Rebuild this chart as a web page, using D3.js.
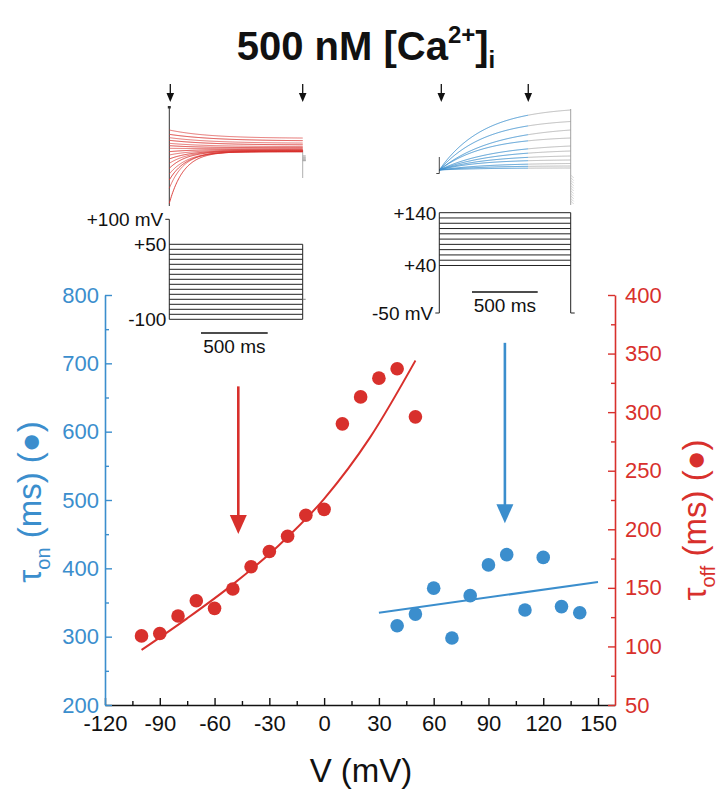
<!DOCTYPE html>
<html><head><meta charset="utf-8">
<script src="https://cdn.jsdelivr.net/npm/d3@7"></script>
<style>
body{margin:0;background:#fff}
svg{display:block}
text{font-family:"Liberation Sans",Arial,Helvetica,sans-serif}
</style>
</head><body>
<svg id="chart" width="725" height="803"></svg>
<script>
const BLUE = "#3b8ecd", RED = "#d8302c";

// ---- main data ----
const offV   = [-100,-90,-80,-70,-60,-50,-40,-30,-20,-10,0,10,20,30,40,50];
const offTau = [109,111,126,139,132.5,149,168,181,194,212,217,290,313,329,337,296];
const onV    = [40,50,60,70,80,90,100,110,120,130,140];
const onTau  = [316,333,371,298,360,405,420,339,416,344,335];
const offFitV   = [-100,-75,-50,-25,0,25,50];
const offFitTau = [97,124,153,186,226,278,344];
const onFitV   = [30,150];
const onFitTau = [335,380];
const xTicks      = [-120,-90,-60,-30,0,30,60,90,120,150];
const xMinor      = [-105,-75,-45,-15,15,45,75,105,135];
const yLeftTicks  = [200,300,400,500,600,700,800];
const yLeftMinor  = [250,350,450,550,650,750];
const yRightTicks = [50,100,150,200,250,300,350,400];
const yRightMinor = [75,125,175,225,275,325,375];

// annotation arrows (data coords)
const redArrow  = {v:-47, from:322, to:196};   // right axis units
const blueArrow = {v:99,  from:730, to:466};   // left axis units

// ---- inset data ----
// tail (off) currents, arbitrary units, ordered as offV
const offInsetStart = [-15.5,-11.0,-8.5,-6.7,-5.0,-3.5,-2.2,-1.0,0,1.0,1.8,2.5,3.4,4.2,5.2,6.5];
const offInsetEnd   = [0,0,0,0.1,0.2,0.3,0.4,0.5,0.7,0.9,1.2,1.5,2.0,2.5,3.2,4.0];
// activation (on) currents at 1 s, arbitrary units, ordered as onV
const onInsetEnd = [2,4,6.5,10,14,19,24,32,40,48.5,60];
const offProtoLabels = [{v:100,t:"+100 mV"},{v:50,t:"+50"},{v:-100,t:"-100"}];
const onProtoLabels  = [{v:140,t:"+140"},{v:40,t:"+40"},{v:-50,t:"-50 mV"}];
const onBlueEndT = 677;   // ms at which the fitted (blue) part ends

const svg = d3.select("#chart");
const fmt = d => String(d);

// ---- title ----
const title = svg.append("text").attr("x", 366).attr("y", 60).attr("text-anchor","middle")
  .attr("font-size", 40).attr("font-weight","bold").attr("fill","#111");
title.append("tspan").text("500 nM [Ca");
title.append("tspan").attr("font-size", 24).attr("dy", -17).text("2+");
title.append("tspan").attr("dy", 17).text("]");
title.append("tspan").attr("font-size", 24).attr("dy", 8).text("i");

// ---- scales ----
const x  = d3.scaleLinear().domain([-120, 159.3]).range([105, 615]);
const yL = d3.scaleLinear().domain([200, 800]).range([705, 295]);
const yR = d3.scaleLinear().domain([50, 400]).range([705, 295]);

function styleAxis(g, color){
  g.selectAll("path").attr("stroke", color).attr("stroke-width", 1.6);
  g.selectAll("line").attr("stroke", color).attr("stroke-width", 1.4);
  g.selectAll("text").attr("fill", color).attr("font-size", 22)
    .attr("font-family", '"Liberation Sans",Arial,sans-serif');
}

// bottom axis
const gB = svg.append("g").attr("transform","translate(0,705)")
  .call(d3.axisBottom(x).tickValues(xTicks).tickFormat(fmt).tickSizeInner(-7).tickSizeOuter(0).tickPadding(10));
styleAxis(gB, "#111");
const gBm = svg.append("g").attr("transform","translate(0,705)")
  .call(d3.axisBottom(x).tickValues(xMinor).tickSizeInner(-4).tickFormat(""));
gBm.select(".domain").remove(); styleAxis(gBm, "#111");

// left axis
const gL = svg.append("g").attr("transform","translate(105,0)")
  .call(d3.axisLeft(yL).tickValues(yLeftTicks).tickFormat(fmt).tickSizeInner(-7).tickSizeOuter(0).tickPadding(6));
styleAxis(gL, BLUE);
const gLm = svg.append("g").attr("transform","translate(105,0)")
  .call(d3.axisLeft(yL).tickValues(yLeftMinor).tickSizeInner(-4).tickFormat(""));
gLm.select(".domain").remove(); styleAxis(gLm, BLUE);

// right axis
const gR = svg.append("g").attr("transform","translate(615,0)")
  .call(d3.axisRight(yR).tickValues(yRightTicks).tickFormat(fmt).tickSizeInner(-7).tickSizeOuter(0).tickPadding(10));
styleAxis(gR, RED);
const gRm = svg.append("g").attr("transform","translate(615,0)")
  .call(d3.axisRight(yR).tickValues(yRightMinor).tickSizeInner(-4).tickFormat(""));
gRm.select(".domain").remove(); styleAxis(gRm, RED);

// axis titles
svg.append("text").attr("x", 361).attr("y", 782).attr("text-anchor","middle")
  .attr("font-size", 33).attr("fill","#111").text("V (mV)");

function yTitle(tx, ty, sub, color){
  const t = svg.append("text").attr("transform",`translate(${tx},${ty}) rotate(-90)`)
    .attr("text-anchor","middle").attr("font-size", 33).attr("fill", color);
  t.append("tspan").text("τ");
  t.append("tspan").attr("font-size", 20).attr("dy", 9).text(sub);
  t.append("tspan").attr("dy", -9).text(" (ms) (●)");
}
yTitle(41, 502, "on", BLUE);
yTitle(706, 520, "off", RED);

// ---- fits ----
svg.append("path")
  .datum(offFitV.map((v,i)=>[v, offFitTau[i]]))
  .attr("fill","none").attr("stroke", RED).attr("stroke-width", 2)
  .attr("d", d3.line().x(d=>x(d[0])).y(d=>yR(d[1])).curve(d3.curveMonotoneX));
svg.append("path")
  .datum(onFitV.map((v,i)=>[v, onFitTau[i]]))
  .attr("fill","none").attr("stroke", BLUE).attr("stroke-width", 2)
  .attr("d", d3.line().x(d=>x(d[0])).y(d=>yL(d[1])));

// ---- points ----
svg.append("g").selectAll("circle").data(offV.map((v,i)=>[v, offTau[i]])).join("circle")
  .attr("cx", d=>x(d[0])).attr("cy", d=>yR(d[1])).attr("r", 6.8).attr("fill", RED);
svg.append("g").selectAll("circle").data(onV.map((v,i)=>[v, onTau[i]])).join("circle")
  .attr("cx", d=>x(d[0])).attr("cy", d=>yL(d[1])).attr("r", 6.8).attr("fill", BLUE);

// ---- big arrows ----
function bigArrow(px, y0, y1, color){
  const hl = 19, hw = 8.5;
  svg.append("line").attr("x1",px).attr("x2",px).attr("y1",y0).attr("y2",y1-hl+2)
    .attr("stroke",color).attr("stroke-width",2.6);
  svg.append("path").attr("d",`M${px-hw},${y1-hl} L${px+hw},${y1-hl} L${px},${y1} Z`).attr("fill",color);
}
bigArrow(x(redArrow.v), yR(redArrow.from), yR(redArrow.to), RED);
bigArrow(x(blueArrow.v), yL(blueArrow.from), yL(blueArrow.to), BLUE);

// ---- small arrows ----
function smallArrow(px){
  svg.append("line").attr("x1",px).attr("x2",px).attr("y1",84).attr("y2",95)
    .attr("stroke","#111").attr("stroke-width",1.3);
  svg.append("path").attr("d",`M${px-3.8},${93} L${px+3.8},${93} L${px},${102} Z`).attr("fill","#111");
}

// ================= LEFT INSET (tail currents) =================
const tL  = d3.scaleLinear().domain([0,1000]).range([169.3, 302.7]);
const iL  = d3.scaleLinear().domain([-15.5, 6.5]).range([203.3, 130]);
const vL  = d3.scaleLinear().domain([-100, 100]).range([319.3, 219.3]);
const tSamples = d3.range(0, 1001, 5);

smallArrow(tL(0)+1); smallArrow(tL(1000));
svg.append("line").attr("x1",tL(0)).attr("x2",tL(0)).attr("y1",107).attr("y2",206)
  .attr("stroke","#333").attr("stroke-width",1);
svg.append("rect").attr("x",tL(0)-1.5).attr("y",106).attr("width",3).attr("height",2.5).attr("fill","#333");
svg.append("line").attr("x1",tL(1000)).attr("x2",tL(1000)).attr("y1",iL(0.5)).attr("y2",178)
  .attr("stroke","#999").attr("stroke-width",0.8);
svg.append("g").selectAll("line").data(offV).join("line")
  .attr("x1",tL(1000)).attr("x2",tL(1000)+3)
  .attr("y1",(d,i)=>iL(offInsetEnd[i])+4+i*0.9).attr("y2",(d,i)=>iL(offInsetEnd[i])+4+i*0.9)
  .attr("stroke","#aaa").attr("stroke-width",0.5);

const lineT = d3.line().x(d=>d[0]).y(d=>d[1]);
svg.append("g").selectAll("path").data(offV).join("path")
  .attr("fill","none").attr("stroke", RED).attr("stroke-width",0.9)
  .attr("stroke-opacity",(d,i)=> i%2 ? 0.75 : 1)
  .attr("d",(v,i)=>{
    const s=offInsetStart[i], e=offInsetEnd[i], tau=offTau[i];
    return lineT(tSamples.map(t=>[tL(t), iL(e+(s-e)*Math.exp(-t/tau))]));
  });

const protoL = svg.append("g").attr("stroke","#222").attr("stroke-width",1);
protoL.selectAll("line.step").data(offV).join("line").attr("class","step")
  .attr("x1",tL(0)).attr("x2",tL(1000)).attr("y1",d=>vL(d)).attr("y2",d=>vL(d));
protoL.append("line").attr("x1",tL(0)).attr("x2",tL(0)).attr("y1",vL(100)).attr("y2",vL(-100));
protoL.append("line").attr("x1",tL(0)-4).attr("x2",tL(0)).attr("y1",vL(100)).attr("y2",vL(100));
protoL.append("line").attr("x1",tL(1000)).attr("x2",tL(1000)).attr("y1",vL(50)).attr("y2",vL(-100));
protoL.append("line").attr("x1",tL(1000)).attr("x2",tL(1000)+3).attr("y1",vL(-60)).attr("y2",vL(-60)).attr("stroke","#888");
svg.append("g").selectAll("text").data(offProtoLabels).join("text")
  .attr("x",(d,i)=> i===0 ? tL(0)-6 : tL(0)-3).attr("y",d=>vL(d.v)).attr("dy","0.36em")
  .attr("text-anchor","end").attr("font-size",19).attr("fill","#111").text(d=>d.t);
const sbL0 = 201;
svg.append("line").attr("x1",sbL0).attr("x2",sbL0 + tL(500)-tL(0)).attr("y1",333).attr("y2",333)
  .attr("stroke","#111").attr("stroke-width",1.3);
svg.append("text").attr("x",sbL0+(tL(500)-tL(0))/2).attr("y",353).attr("text-anchor","middle")
  .attr("font-size",19).attr("fill","#111").text("500 ms");

// ================= RIGHT INSET (activation) =================
const tR = d3.scaleLinear().domain([0,1000]).range([439.3, 570.7]);
const iR = d3.scaleLinear().domain([0, 60]).range([170, 110]);
const vR = d3.scaleLinear().domain([-50, 140]).range([313, 212.7]);

smallArrow(tR(0)+2); smallArrow(tR(onBlueEndT));
function onCurr(i, t){
  const tau = onTau[i], A = onInsetEnd[i]/(1-Math.exp(-1000/tau));
  return A*(1-Math.exp(-t/tau));
}
const blueT = tSamples.filter(t=>t<=onBlueEndT);
const grayT = tSamples.filter(t=>t>=onBlueEndT-5);
svg.append("g").selectAll("path").data(onV).join("path")
  .attr("fill","none").attr("stroke","#aaa").attr("stroke-width",0.8)
  .attr("d",(v,i)=>lineT(grayT.map(t=>[tR(t), iR(onCurr(i,t))])));
svg.append("g").selectAll("path").data(onV).join("path")
  .attr("fill","none").attr("stroke",BLUE).attr("stroke-width",0.9)
  .attr("d",(v,i)=>lineT(blueT.map(t=>[tR(t), iR(onCurr(i,t))])));
svg.append("path").attr("d",`M${tR(0)-3},${iR(-3.5)} L${tR(0)},${iR(-3.5)} L${tR(0)},${iR(13)}`)
  .attr("fill","none").attr("stroke","#333").attr("stroke-width",0.9);
svg.append("line").attr("x1",tR(1000)).attr("x2",tR(1000)).attr("y1",iR(61)).attr("y2",iR(-35))
  .attr("stroke","#999").attr("stroke-width",0.9);
svg.append("g").selectAll("line").data(onV).join("line")
  .attr("x1",tR(1000)).attr("x2",tR(1000)+3)
  .attr("y1",(d,i)=>iR(-5-i*2.6)).attr("y2",(d,i)=>iR(-8-i*2.6))
  .attr("stroke","#bbb").attr("stroke-width",0.6);

const protoR = svg.append("g").attr("stroke","#222").attr("stroke-width",1);
protoR.selectAll("line.step").data(onV).join("line").attr("class","step")
  .attr("x1",tR(0)).attr("x2",tR(1000)).attr("y1",d=>vR(d)).attr("y2",d=>vR(d));
protoR.append("line").attr("x1",tR(0)).attr("x2",tR(0)).attr("y1",vR(140)).attr("y2",vR(-50));
protoR.append("line").attr("x1",tR(0)-4).attr("x2",tR(0)).attr("y1",vR(-50)).attr("y2",vR(-50));
protoR.append("line").attr("x1",tR(1000)).attr("x2",tR(1000)).attr("y1",vR(140)).attr("y2",vR(-50));
protoR.append("line").attr("x1",tR(1000)).attr("x2",tR(1000)+4).attr("y1",vR(-50)).attr("y2",vR(-50));
svg.append("g").selectAll("text").data(onProtoLabels).join("text")
  .attr("x",(d,i)=> i===2 ? tR(0)-6 : tR(0)-3).attr("y",d=>vR(d.v)).attr("dy","0.36em")
  .attr("text-anchor","end").attr("font-size",19).attr("fill","#111").text(d=>d.t);
const sbR0 = 472;
svg.append("line").attr("x1",sbR0).attr("x2",sbR0 + tR(500)-tR(0)).attr("y1",292).attr("y2",292)
  .attr("stroke","#111").attr("stroke-width",1.3);
svg.append("text").attr("x",sbR0+(tR(500)-tR(0))/2).attr("y",312).attr("text-anchor","middle")
  .attr("font-size",19).attr("fill","#111").text("500 ms");
</script>
</body></html>
